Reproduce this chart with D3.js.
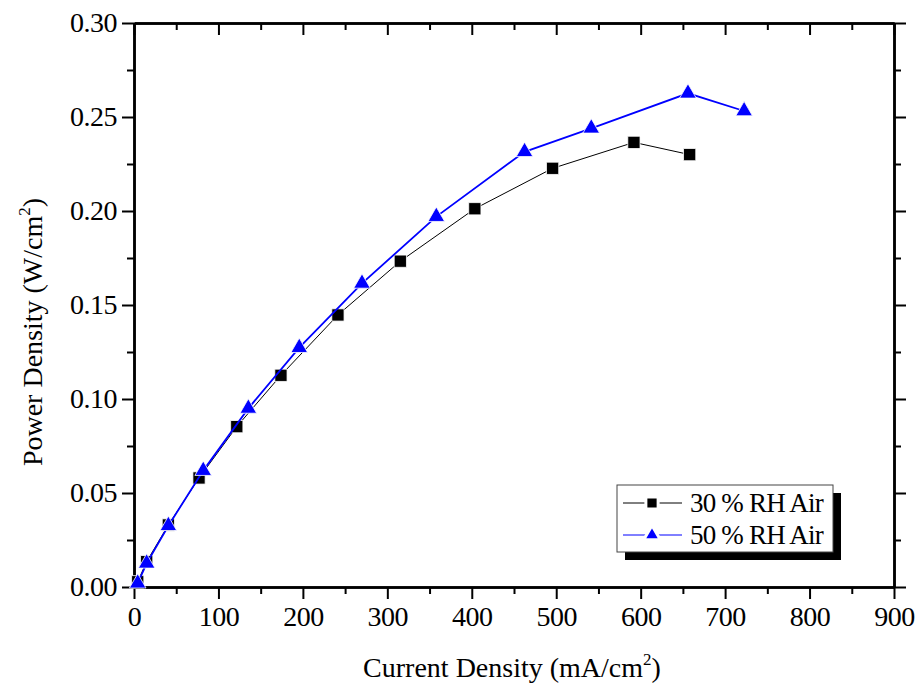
<!DOCTYPE html>
<html>
<head>
<meta charset="utf-8">
<script src="https://cdn.jsdelivr.net/npm/d3@7"></script>
<style>
  body { margin: 0; background: #fff; }
</style>
</head>
<body>
<script>
// data
let seriesNames = ["30 % RH Air", "50 % RH Air"];
let seriesColors = ["#000000", "#0000ff"];

let current30 = [4.4, 15, 40.7, 77, 121.7, 174, 241.5, 315.4, 403.6, 495.7, 592, 658];
let power30 = [0.0028, 0.0135, 0.033, 0.058, 0.0853, 0.1126, 0.1447, 0.1733, 0.2012, 0.2227, 0.2365, 0.230];

let current50 = [4.4, 15, 40.7, 82, 135.4, 195.7, 270, 358, 462.5, 541.5, 656, 722.5];
let power50 = [0.002, 0.0126, 0.0326, 0.0619, 0.095, 0.1273, 0.1615, 0.197, 0.2315, 0.244, 0.2626, 0.2532];

let xTicks = [0, 100, 200, 300, 400, 500, 600, 700, 800, 900];
let yTicks = [0.00, 0.05, 0.10, 0.15, 0.20, 0.25, 0.30];

let serif = "Liberation Serif";
let width = 921, height = 693;
let plotLeft = 134, plotRight = 894, plotTop = 23, plotBottom = 587;

let svg = d3.select("body").append("svg")
    .attr("width", width)
    .attr("height", height)
    .attr("font-family", serif);

svg.append("rect").attr("width", width).attr("height", height).attr("fill", "#fff");

let x = d3.scaleLinear().domain([0, 900]).range([plotLeft, plotRight]);
let y = d3.scaleLinear().domain([0, 0.30]).range([plotBottom, plotTop]);

let xMinor = d3.range(50, 900, 100);
let yMinor = d3.range(0.025, 0.30, 0.05);

function styleAxis(g) {
  g.attr("font-family", serif).attr("font-size", 28);
  g.select(".domain").attr("stroke-width", 2.5).attr("stroke", "#000");
  g.selectAll(".tick line").attr("stroke-width", 2).attr("stroke", "#000");
  g.selectAll(".tick text").attr("fill", "#000").attr("letter-spacing", -0.5);
}

// major axes
svg.append("g").attr("transform", "translate(0," + plotBottom + ")")
  .call(d3.axisBottom(x).tickValues(xTicks).tickSize(12).tickPadding(7).tickSizeOuter(0))
  .call(styleAxis);
svg.append("g").attr("transform", "translate(" + plotLeft + ",0)")
  .call(d3.axisLeft(y).tickValues(yTicks).tickSize(12).tickPadding(5).tickFormat(d3.format(".2f")).tickSizeOuter(0))
  .call(styleAxis);
svg.append("g").attr("transform", "translate(0," + plotTop + ")")
  .call(d3.axisTop(x).tickValues(xTicks).tickSize(-12).tickFormat("").tickSizeOuter(0))
  .call(styleAxis);
svg.append("g").attr("transform", "translate(" + plotRight + ",0)")
  .call(d3.axisRight(y).tickValues(yTicks).tickSize(12).tickFormat("").tickSizeOuter(0))
  .call(styleAxis);

// minor ticks
svg.append("g").attr("transform", "translate(0," + plotBottom + ")")
  .call(d3.axisBottom(x).tickValues(xMinor).tickSize(7).tickFormat("").tickSizeOuter(0))
  .call(styleAxis);
svg.append("g").attr("transform", "translate(" + plotLeft + ",0)")
  .call(d3.axisLeft(y).tickValues(yMinor).tickSize(7).tickFormat("").tickSizeOuter(0))
  .call(styleAxis);
svg.append("g").attr("transform", "translate(0," + plotTop + ")")
  .call(d3.axisTop(x).tickValues(xMinor).tickSize(-7).tickFormat("").tickSizeOuter(0))
  .call(styleAxis);
svg.append("g").attr("transform", "translate(" + plotRight + ",0)")
  .call(d3.axisRight(y).tickValues(yMinor).tickSize(7).tickFormat("").tickSizeOuter(0))
  .call(styleAxis);

// axis titles
let xTitle = svg.append("text")
  .attr("x", 512)
  .attr("y", 677)
  .attr("text-anchor", "middle")
  .attr("font-family", serif)
  .attr("font-size", 28);
xTitle.append("tspan").text("Current Density (mA/cm");
xTitle.append("tspan").attr("dy", -12).attr("font-size", 17).text("2");
xTitle.append("tspan").attr("dy", 12).text(")");

let yTitle = svg.append("text")
  .attr("transform", "translate(42,332) rotate(-90)")
  .attr("text-anchor", "middle")
  .attr("font-family", serif)
  .attr("font-size", 28);
yTitle.append("tspan").text("Power Density (W/cm");
yTitle.append("tspan").attr("dy", -12).attr("font-size", 17).text("2");
yTitle.append("tspan").attr("dy", 12).text(")");

let series = [
  {name: seriesNames[0], color: seriesColors[0], xs: current30, ys: power30, symbol: d3.symbolSquare, size: 150, lw: 1},
  {name: seriesNames[1], color: seriesColors[1], xs: current50, ys: power50, symbol: d3.symbolTriangle, size: 120, lw: 1.8}
];

let line = d3.line().x(d => x(d[0])).y(d => y(d[1]));

series.forEach(function(s) {
  let pts = s.xs.map((v, i) => [v, s.ys[i]]);
  svg.append("path")
    .datum(pts)
    .attr("d", line)
    .attr("fill", "none")
    .attr("stroke", s.color)
    .attr("stroke-width", s.lw);
  svg.append("g").selectAll("path")
    .data(pts)
    .enter().append("path")
    .attr("transform", d => "translate(" + x(d[0]) + "," + y(d[1]) + ")")
    .attr("d", d3.symbol().type(s.symbol).size(s.size))
    .attr("fill", s.color)
    .attr("stroke", "#fff")
    .attr("stroke-width", 0.8);
});

// legend
let lx = 617, ly = 485, lw = 216, lh = 67;
svg.append("rect").attr("x", lx + 8).attr("y", ly + 8).attr("width", lw).attr("height", lh).attr("fill", "#000");
svg.append("rect").attr("x", lx).attr("y", ly).attr("width", lw).attr("height", lh)
  .attr("fill", "#fff").attr("stroke", "#444").attr("stroke-width", 1);

series.forEach(function(s, i) {
  let cy = ly + 18 + i * 32;
  svg.append("line")
    .attr("x1", lx + 6).attr("x2", lx + 65)
    .attr("y1", cy).attr("y2", cy)
    .attr("stroke", s.color).attr("stroke-width", 1);
  svg.append("path")
    .attr("transform", "translate(" + (lx + 35) + "," + cy + ")")
    .attr("d", d3.symbol().type(s.symbol).size(s.size))
    .attr("fill", s.color)
    .attr("stroke", "#fff")
    .attr("stroke-width", 3);
  svg.append("text")
    .attr("x", lx + 73)
    .attr("y", cy + 9)
    .attr("font-family", serif)
    .attr("font-size", 27)
    .attr("letter-spacing", -0.8)
    .text(s.name);
});
</script>
</body>
</html>
